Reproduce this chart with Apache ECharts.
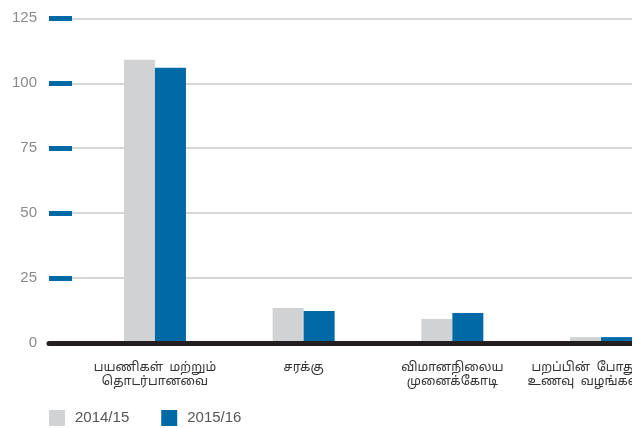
<!DOCTYPE html>
<html>
<head>
<meta charset="utf-8">
<script src="https://cdn.jsdelivr.net/npm/echarts@6/dist/echarts.min.js"></script>
<style>
  html, body { margin: 0; padding: 0; background: #fff; }
  #chart { width: 632px; height: 428px; }
</style>
</head>
<body>
<div id="chart"></div>
<script>
const categories = ['பயணிகள்  மற்றும்\nதொடர்பானவை', 'சரக்கு', 'விமானநிலைய\nமுனைக்கோடி', 'பறப்பின்  போது\nஉணவு  வழங்கல்']
const seriesNames = ['2014/15', '2015/16']
const values2014 = [109, 13.5, 9.3, 2.3]
const values2015 = [106, 12.4, 11.6, 2.3]
const yTicks = [0, 25, 50, 75, 100, 125]

const BLUE = '#0069a6'
const GREY = '#d1d2d4'
const tamilFont = "'Noto Sans Tamil', 'Lohit Tamil', 'Latha', 'Liberation Sans', sans-serif"

const chart = echarts.init(document.getElementById('chart'))

const yBase = {
  type: 'value',
  min: yTicks[0],
  max: yTicks[yTicks.length - 1],
  interval: yTicks[1] - yTicks[0],
  axisLine: { show: false },
  splitLine: { lineStyle: { color: '#c8c8c8', width: 1.5 } }
}

const labelText = { color: '#333', fontSize: 12.5, lineHeight: 14, fontFamily: tamilFont }

const option = {
  animation: false,
  backgroundColor: '#fff',
  grid: [
    { left: 80.6, right: -43.4, top: 18.3, bottom: 84.9, outerBoundsMode: 'none' },
    { left: 49, width: 31.6, top: 18.3, bottom: 84.9, outerBoundsMode: 'none' }
  ],
  legend: {
    data: seriesNames,
    left: 49,
    top: 410,
    padding: 0,
    icon: 'rect',
    itemWidth: 16,
    itemHeight: 16,
    itemGap: 32,
    textStyle: { color: '#555', fontSize: 15, fontFamily: 'Liberation Sans', padding: [0, 0, 0, 5] }
  },
  xAxis: [
    {
      type: 'category',
      gridIndex: 0,
      data: categories,
      z: 5,
      axisLine: { lineStyle: { color: '#231f20', width: 5 } },
      axisTick: { show: false },
      axisLabel: Object.assign({}, labelText, {
        margin: 18,
        interval: 0,
        // the last label sits near the edge, shift it left a bit
        formatter: (v, i) => i === categories.length - 1
          ? v.split('\n').map(s => '{last|' + s + '}').join('\n')
          : v,
        rich: { last: Object.assign({}, labelText, { padding: [0, 34, 0, 0] }) }
      })
    },
    {
      type: 'category',
      gridIndex: 1,
      data: [''],
      z: 5,
      axisLine: { lineStyle: { color: '#231f20', width: 5 } },
      axisTick: { show: false },
      axisLabel: { show: false }
    }
  ],
  yAxis: [
    Object.assign({}, yBase, {
      gridIndex: 0,
      axisTick: { show: false },
      axisLabel: { show: false }
    }),
    Object.assign({}, yBase, {
      gridIndex: 1,
      axisTick: { show: true, inside: true, length: 23, lineStyle: { color: BLUE, width: 5 } },
      axisLabel: { color: '#8a8a8a', fontSize: 15, margin: 12, fontFamily: 'Liberation Sans' }
    })
  ],
  series: [
    {
      name: seriesNames[0],
      type: 'bar',
      xAxisIndex: 0,
      yAxisIndex: 0,
      barWidth: 31,
      barGap: '0%',
      itemStyle: { color: GREY },
      data: values2014
    },
    {
      name: seriesNames[1],
      type: 'bar',
      xAxisIndex: 0,
      yAxisIndex: 0,
      barWidth: 31,
      barGap: '0%',
      itemStyle: { color: BLUE },
      data: values2015
    }
  ]
}

chart.setOption(option)
</script>
</body>
</html>
